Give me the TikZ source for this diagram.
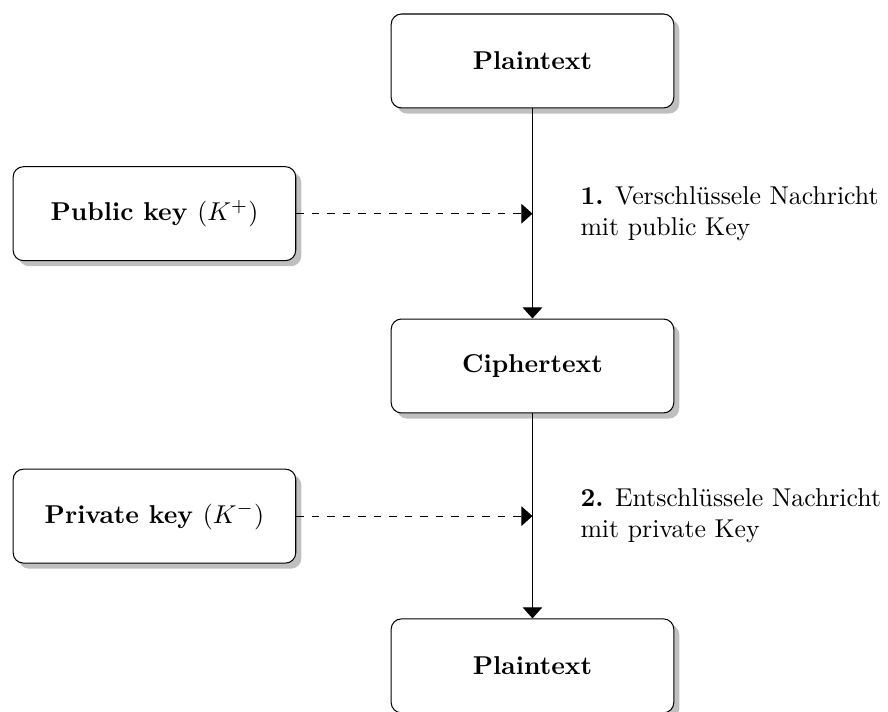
\documentclass[tikz,border=0pt]{standalone}
\usepackage{amsmath,amssymb}
\usepackage{tikz}
\usetikzlibrary{arrows.meta,positioning,calc,shadows}

\begin{document}
\begin{tikzpicture}[font=\normalsize,
  blk/.style={draw=black,fill=white,rounded corners=4pt,drop shadow,minimum width=3.85cm,minimum height=1.28cm,align=center,font=\bfseries},
  a/.style={-{Triangle[width=7.6pt,length=4.3pt]}},
  da/.style={a,dashed}]
\useasboundingbox (-7.254,0.831) rectangle (4.843,-8.855);
\node[blk] (pt1) at (0,0) {Plaintext};
\node[blk] (ct) at (0,-4.155) {Ciphertext};
\node[blk] (pt2) at (0,-8.24) {Plaintext};
\node[blk] (pub) at (-5.15,-2.08) {Public key $(K^+)$};
\node[blk] (priv) at (-5.15,-6.2) {Private key $(K^-)$};
\coordinate (m1) at ($(pt1.south)!0.5!(ct.north)$);
\coordinate (m2) at ($(ct.south)!0.5!(pt2.north)$);
\draw[a] (pt1) -- (ct); \draw[a] (ct) -- (pt2);
\draw[da] (pub) -- (pub -| m1);
\draw[da] (priv) -- (priv -| m2);
\node[anchor=west,align=left] (l1) at (0.53,-2.08)
  {\textbf{1.} Verschlüssele Nachricht\\mit public Key};
\node[anchor=west,align=left] (l2) at (0.53,-6.2)
  {\textbf{2.} Entschlüssele Nachricht\\mit private Key};
\end{tikzpicture}
\end{document}
